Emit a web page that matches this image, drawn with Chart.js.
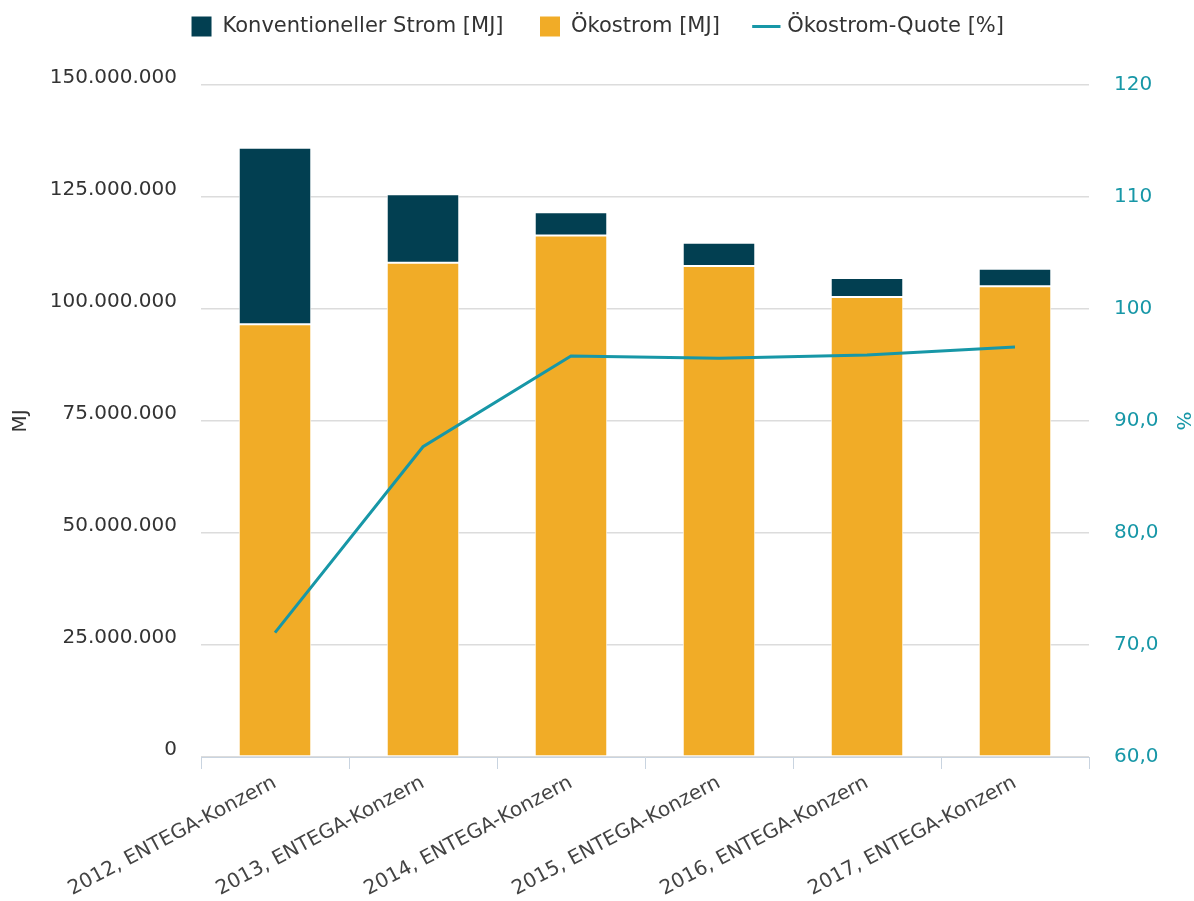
<!DOCTYPE html>
<html>
<head>
<meta charset="utf-8">
<script src="https://cdn.jsdelivr.net/npm/chart.js@4"></script>
<style>
  body { margin: 0; background: #fff; }
  #wrap { width: 1194px; height: 901px; }
</style>
</head>
<body>
<div id="wrap"><canvas id="g_strom"></canvas></div>
<script>
// Werte
const jahre = ['2012, ENTEGA-Konzern', '2013, ENTEGA-Konzern', '2014, ENTEGA-Konzern',
               '2015, ENTEGA-Konzern', '2016, ENTEGA-Konzern', '2017, ENTEGA-Konzern'];
const oekostrom = [96600000, 110300000, 116400000, 109600000, 102700000, 105100000];
const konventionell = [39400000, 15300000, 5200000, 5200000, 4200000, 3900000];
const quote = [71.1, 87.7, 95.8, 95.6, 95.9, 96.6];
const mjTicks = [0, 25000000, 50000000, 75000000, 100000000, 125000000, 150000000];
const quoteTicks = [60, 70, 80, 90, 100, 110, 120];

const dunkel = '#023f51';
const orange = '#f1ac27';
const teal = '#1797a7';

function punkte(v) {
    return String(v).replace(/\B(?=(\d{3})+(?!\d))/g, '.');
}

// mehr Platz unter der Legende
const legendeAbstand = {
    id: 'legendeAbstand',
    beforeInit(chart) {
        const fit = chart.legend.fit;
        chart.legend.fit = function () {
            fit.call(this);
            this.height += 38;
        };
    }
};

const ctx = document.getElementById('g_strom').getContext('2d');
const g_strom = new Chart(ctx, {
    type: 'bar',
    data: {
        labels: jahre,
        datasets: [{
            label: 'Ökostrom [MJ]',
            data: oekostrom,
            backgroundColor: orange,
            borderColor: '#ffffff',
            borderWidth: 1,
            borderSkipped: false,
            yAxisID: 'y',
            order: 1
        }, {
            label: 'Konventioneller Strom [MJ]',
            data: konventionell,
            backgroundColor: dunkel,
            borderColor: '#ffffff',
            borderWidth: 1,
            borderSkipped: false,
            yAxisID: 'y',
            order: 1
        }, {
            type: 'line',
            label: 'Ökostrom-Quote [%]',
            data: quote,
            borderColor: teal,
            backgroundColor: teal,
            borderWidth: 3,
            pointRadius: 0,
            tension: 0,
            yAxisID: 'y1',
            order: 0
        }]
    },
    plugins: [legendeAbstand],
    options: {
        responsive: true,
        maintainAspectRatio: false,
        animation: false,
        layout: { padding: { top: -20, left: 1, right: 0, bottom: 0 } },
        datasets: {
            bar: { categoryPercentage: 1, barPercentage: 0.49 }
        },
        plugins: {
            tooltip: { enabled: false },
            legend: {
                position: 'top',
                labels: {
                    font: { family: 'DejaVu Sans', size: 21 },
                    color: '#333333',
                    usePointStyle: true,
                    boxWidth: 21,
                    boxHeight: 20,
                    padding: 36,
                    generateLabels: function (chart) {
                        const items = Chart.defaults.plugins.legend.labels.generateLabels(chart);
                        items.forEach(function (it) {
                            if (it.datasetIndex === 2) {
                                it.pointStyle = 'line';
                                it.lineWidth = 3;
                                it.strokeStyle = teal;
                            } else {
                                it.pointStyle = 'rect';
                                it.lineWidth = 0;
                            }
                        });
                        return items;
                    },
                    sort: function (a, b) {
                        const rang = [1, 0, 2];
                        return rang[a.datasetIndex] - rang[b.datasetIndex];
                    }
                }
            }
        },
        scales: {
            x: {
                stacked: true,
                grid: {
                    offset: true,
                    drawOnChartArea: false,
                    drawTicks: true,
                    tickLength: 12,
                    color: '#c9d4e0'
                },
                border: { display: true, color: '#c9d4e0', width: 1 },
                ticks: {
                    color: '#444444',
                    font: { family: 'DejaVu Sans', size: 20 },
                    minRotation: 28,
                    maxRotation: 28,
                    padding: 2
                },
                afterFit: function (scale) { scale.height = 144; }
            },
            y: {
                stacked: true,
                position: 'left',
                min: 0,
                max: 150000000,
                afterBuildTicks: function (scale) {
                    scale.ticks = mjTicks.map(v => ({ value: v }));
                },
                grid: { color: '#dcdcdc', lineWidth: 1.5, drawTicks: false },
                border: { display: false },
                ticks: {
                    color: '#333333',
                    font: { family: 'DejaVu Sans', size: 20 },
                    padding: 24,
                    labelOffset: -7,
                    callback: v => punkte(v)
                },
                title: {
                    display: true,
                    text: 'MJ',
                    color: '#333333',
                    font: { family: 'DejaVu Sans', size: 20 },
                    padding: 8
                },
                afterFit: function (scale) { scale.width = 200; }
            },
            y1: {
                position: 'right',
                min: 60,
                max: 120,
                afterBuildTicks: function (scale) {
                    scale.ticks = quoteTicks.map(v => ({ value: v }));
                },
                grid: { drawOnChartArea: false, drawTicks: false },
                border: { display: false },
                ticks: {
                    color: teal,
                    font: { family: 'DejaVu Sans', size: 20 },
                    padding: 25,
                    callback: v => v >= 100 ? String(v) : v.toFixed(1).replace('.', ',')
                },
                title: {
                    display: true,
                    text: '%',
                    color: teal,
                    font: { family: 'DejaVu Sans', size: 20 },
                    padding: 0
                },
                afterFit: function (scale) { scale.width = 105; }
            }
        }
    }
});
</script>
</body>
</html>
